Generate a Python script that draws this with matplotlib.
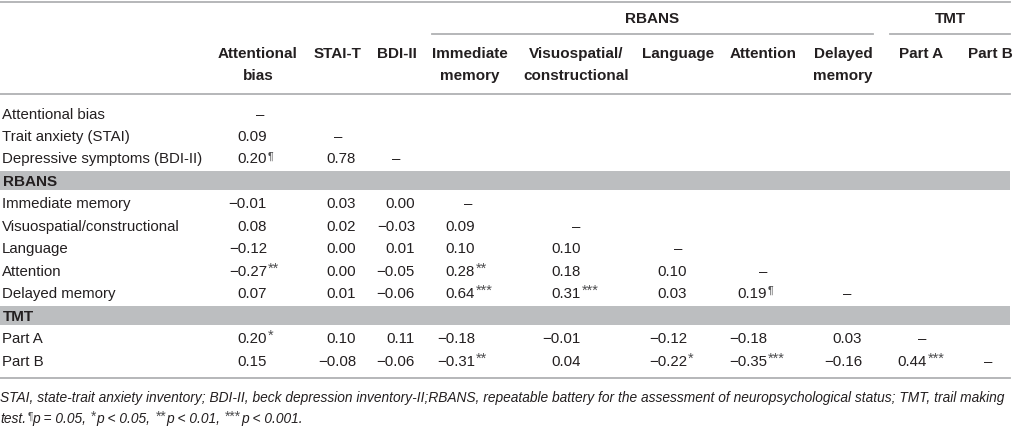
import matplotlib
matplotlib.use("Agg")
import matplotlib.pyplot as plt

plt.rcParams['font.family'] = ['Liberation Sans', 'DejaVu Sans']

# column headers (two lines each)
col_heads = [("Attentional", "bias"), ("STAI-T", ""), ("BDI-II", ""),
             ("Immediate", "memory"), ("Visuospatial/", "constructional"),
             ("Language", ""), ("Attention", ""), ("Delayed", "memory"),
             ("Part A", ""), ("Part B", "")]
groups = ["RBANS", "TMT"]

# row labels, tuples mark a section band
row_labels = ["Attentional bias", "Trait anxiety (STAI)", "Depressive symptoms (BDI-II)",
              ("RBANS",), "Immediate memory", "Visuospatial/constructional", "Language",
              "Attention", "Delayed memory", ("TMT",), "Part A", "Part B"]

# correlation values (lower triangle), None = diagonal dash
values = [
    [None],
    [0.09, None],
    [0.20, 0.78, None],
    [-0.01, 0.03, 0.00, None],
    [0.08, 0.02, -0.03, 0.09, None],
    [-0.12, 0.00, 0.01, 0.10, 0.10, None],
    [-0.27, 0.00, -0.05, 0.28, 0.18, 0.10, None],
    [0.07, 0.01, -0.06, 0.64, 0.31, 0.03, 0.19, None],
    [0.20, 0.10, 0.11, -0.18, -0.01, -0.12, -0.18, 0.03, None],
    [0.15, -0.08, -0.06, -0.31, 0.04, -0.22, -0.35, -0.16, 0.44, None],
]
marks = [
    [""],
    ["", ""],
    ["¶", "", ""],
    ["", "", "", ""],
    ["", "", "", "", ""],
    ["", "", "", "", "", ""],
    ["**", "", "", "**", "", "", ""],
    ["", "", "", "***", "***", "", "¶", ""],
    ["*", "", "", "", "", "", "", "", ""],
    ["", "", "", "**", "", "*", "***", "", "***", ""],
]

footnote1 = ("STAI, state-trait anxiety inventory; BDI-II, beck depression inventory-II;RBANS, "
             "repeatable battery for the assessment of neuropsychological status; TMT, trail making")
footnote2 = [("test.", ""), ("¶", "sup"), ("p = 0.05, ", ""), ("*", "sup"), ("p < 0.05, ", ""),
             ("**", "sup"), ("p < 0.01, ", ""), ("***", "sup"), ("p < 0.001.", "")]

W, H = 1014, 427
fig = plt.figure(figsize=(W / 100, H / 100), dpi=100)
ax = fig.add_axes([0, 0, 1, 1])
ax.set_xlim(0, W)
ax.set_ylim(H, 0)
ax.axis("off")

txt = "#231f20"
sup_c = "#4d4d4f"
line_c = "#b0b1b3"
band_c = "#bcbec0"
fs = 10.8
hfs = 11

head_x = [258, 338, 397, 470, 576, 678, 763, 843, 921, 990]
num_right = [267, 356, 415, 475, 581, 687, 767, 862, 927, 995]
dash_x = [260, 338, 396, 468, 576, 678, 763, 847, 922, 988]


def sup_mark(x, base, m, size):
    # asterisks already sit high in the glyph box; the pilcrow is shrunk and raised
    if m == "¶":
        return ax.text(x, base - 4, m, ha="left", va="baseline", fontsize=size * 0.72, color=sup_c)
    return ax.text(x, base - 3, m, ha="left", va="baseline", fontsize=size, color=sup_c)


# rules
for yy in (2.5, 95, 379):
    ax.plot([0, 1010], [yy, yy], color=line_c, lw=1.3)

# group headers
spans = {"RBANS": (432, 873), "TMT": (890, 1010)}
for name in groups:
    x0, x1 = spans[name]
    ax.plot([x0, x1], [35, 35], color=line_c, lw=1.3)
    ax.text((x0 + x1) / 2, 19, name, ha="center", va="center",
            fontsize=hfs, fontweight="bold", color=txt)

for (l1, l2), x in zip(col_heads, head_x):
    ax.text(x, 54, l1, ha="center", va="center", fontsize=hfs, fontweight="bold", color=txt)
    if l2:
        ax.text(x, 76, l2, ha="center", va="center", fontsize=hfs, fontweight="bold", color=txt)

step = 22.45
vi = 0
for k, lab in enumerate(row_labels):
    y = 114 + step * k
    base = y + 4.6
    if isinstance(lab, tuple):
        ax.add_patch(plt.Rectangle((0, y - 9.5), 1010, 19.5, color=band_c, lw=0))
        ax.text(3, base, lab[0], ha="left", va="baseline", fontsize=hfs, fontweight="bold", color=txt)
        continue
    ax.text(2, base, lab, ha="left", va="baseline", fontsize=fs, color=txt)
    for j, (v, m) in enumerate(zip(values[vi], marks[vi])):
        if v is None:
            ax.text(dash_x[j], base, "–", ha="center", va="baseline", fontsize=fs, color=txt)
            continue
        s = f"{v:.2f}".replace("-", "−")
        ax.text(num_right[j], base, s, ha="right", va="baseline", fontsize=fs, color=txt)
        if m:
            sup_mark(num_right[j] + 0.5, base, m, 10.5)
    vi += 1

# footnote, fitted to the table width
fig.canvas.draw()
r = fig.canvas.get_renderer()
ffs = 10.0
t1 = ax.text(0, 402, footnote1, ha="left", va="baseline", fontsize=ffs, style="italic", color=txt)
w1 = t1.get_window_extent(renderer=r).width
ffs = ffs * 1008 / w1
t1.set_fontsize(ffs)
x = 0.0
for piece, kind in footnote2:
    if kind == "sup":
        t = sup_mark(x + 1, 423.5, piece, ffs)
        x += 1
    else:
        t = ax.text(x, 423.5, piece, ha="left", va="baseline", fontsize=ffs,
                    style="italic", color=txt)
    x += t.get_window_extent(renderer=r).width

fig.savefig("out.png", dpi=100)
